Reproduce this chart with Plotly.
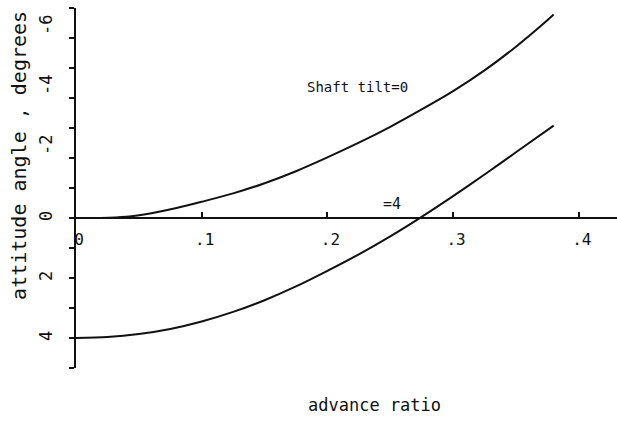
import plotly.graph_objects as go

# Advance ratio vs. attitude angle for two shaft-tilt settings
mu_tilt0 = [0, 0.02, 0.04, 0.06, 0.08, 0.10, 0.125, 0.15, 0.175, 0.20,
            0.225, 0.25, 0.275, 0.30, 0.325, 0.35, 0.375, 0.38]
att_tilt0 = [0, 0, -0.04, -0.16, -0.33, -0.54, -0.82, -1.16, -1.56, -2.02,
             -2.51, -3.04, -3.62, -4.23, -4.92, -5.71, -6.59, -6.78]

mu_tilt4 = [0, 0.025, 0.05, 0.075, 0.10, 0.125, 0.15, 0.175, 0.20, 0.225,
            0.25, 0.275, 0.30, 0.325, 0.35, 0.38]
att_tilt4 = [4.0, 3.97, 3.87, 3.70, 3.45, 3.13, 2.74, 2.28, 1.76, 1.21,
             0.61, -0.04, -0.73, -1.45, -2.19, -3.08]

x_tick_vals = [0, 0.1, 0.2, 0.3, 0.4]
x_tick_text = ["0", ".1", ".2", ".3", ".4"]
y_tick_vals = [-6, -4, -2, 0, 2, 4]
y_tick_text = ["-6", "-4", "-2", "0", "2", "4"]

Y_MIN, Y_MAX = -7, 5
X_MAX = 0.4304

MONO = "DejaVu Sans Mono"
INK = "#111111"

fig = go.Figure()
for mu, att in [(mu_tilt0, att_tilt0), (mu_tilt4, att_tilt4)]:
    fig.add_trace(go.Scatter(
        x=mu, y=att, mode="lines",
        line=dict(color=INK, width=2, shape="spline", smoothing=0.8),
        showlegend=False, hoverinfo="skip",
    ))

# curve labels
fig.add_annotation(x=0.2236, y=-4.37, text="Shaft tilt=0", showarrow=False,
                   xanchor="center", yanchor="middle",
                   font=dict(family=MONO, size=14, color=INK))
fig.add_annotation(x=0.2514, y=-0.47, text="=4", showarrow=False,
                   xanchor="center", yanchor="middle",
                   font=dict(family=MONO, size=15, color=INK))

# rotated y tick labels; signed labels sit a little higher along the axis
for v, t in zip(y_tick_vals, y_tick_text):
    fig.add_annotation(xref="paper", x=0, xshift=-30, xanchor="center",
                       y=v, yanchor="middle", yshift=13 if t.startswith("-") else 2,
                       text=t, textangle=-90, showarrow=False,
                       font=dict(family=MONO, size=17, color=INK))

# axis titles
fig.add_annotation(xref="paper", x=0, xshift=-57, xanchor="center",
                   y=-2.07, yanchor="middle", text="attitude angle , degrees",
                   textangle=-90, showarrow=False,
                   font=dict(family=MONO, size=20, color=INK))
fig.add_annotation(xref="paper", yref="paper", x=0.551, y=-0.103,
                   xanchor="center", yanchor="middle", text="advance ratio",
                   showarrow=False, font=dict(family=MONO, size=17, color=INK))

fig.update_layout(
    width=617, height=430,
    margin=dict(l=76, r=0, t=8, b=62),
    paper_bgcolor="white", plot_bgcolor="white",
    xaxis=dict(
        range=[0, X_MAX], anchor="free", position=(Y_MAX - 0) / (Y_MAX - Y_MIN),
        showline=True, linecolor=INK, linewidth=2, showgrid=False, zeroline=False,
        ticks="inside", ticklen=5, tickwidth=1.5, tickcolor=INK,
        tickvals=x_tick_vals, ticktext=x_tick_text,
        ticklabelshift=3, ticklabelstandoff=7,
        tickfont=dict(family=MONO, size=16, color=INK),
    ),
    yaxis=dict(
        range=[Y_MAX, Y_MIN], showline=True, linecolor=INK, linewidth=2,
        showgrid=False, zeroline=False, ticks="outside", ticklen=5, tickwidth=1.5,
        tickcolor=INK, tick0=0, dtick=1, showticklabels=False,
    ),
)

fig.write_html("out.html")
